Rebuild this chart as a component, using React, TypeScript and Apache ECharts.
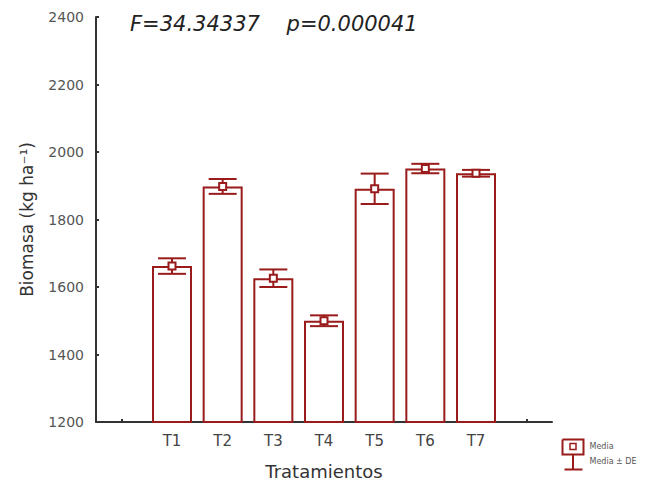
import React, { useEffect, useRef } from "react";
import * as echarts from "echarts";

const categories = ["", "T1", "T2", "T3", "T4", "T5", "T6", "T7", ""];
const means = [null, 1662, 1898, 1626, 1500, 1891, 1951, 1937, null];
const sds = [null, 23, 22, 26, 16, 45, 14, 10, null];
const yTicks = [1200, 1400, 1600, 1800, 2000, 2200, 2400];
const statsText = "F=34.34337    p=0.000041";
const legendLabels = ["Media", "Media ± DE"];

const RED = "#9a1b1b";
const FONT = "DejaVu Sans";

export default function App() {
  const ref = useRef<HTMLDivElement>(null);
  useEffect(() => {
    const chart = echarts.init(ref.current!, null, { renderer: "svg" });
    const errData = means.map((m, i) => (m == null ? null : [i, m, sds[i]]));
    chart.setOption({
      animation: false,
      backgroundColor: "#ffffff",
      textStyle: { fontFamily: FONT },
      grid: { left: 96, right: 100, top: 17, bottom: 62, containLabel: false },
      xAxis: {
        type: "category",
        data: categories,
        boundaryGap: true,
        name: "Tratamientos",
        nameLocation: "middle",
        nameGap: 40,
        nameTextStyle: { fontSize: 18, color: "#333", fontFamily: FONT },
        axisLine: { lineStyle: { color: "#333", width: 2 } },
        axisTick: { show: true, inside: true, length: 3, alignWithLabel: true, lineStyle: { color: "#333", width: 2 } },
        axisLabel: { fontSize: 15, color: "#444", margin: 11, interval: 0, fontFamily: FONT },
        splitLine: { show: false },
      },
      yAxis: {
        type: "value",
        min: yTicks[0],
        max: yTicks[yTicks.length - 1],
        interval: 200,
        name: "Biomasa (kg ha⁻¹)",
        nameLocation: "middle",
        nameGap: 61,
        nameTextStyle: { fontSize: 17, color: "#333", fontFamily: FONT },
        axisLine: { show: true, lineStyle: { color: "#333", width: 2 } },
        axisTick: { show: true, inside: true, length: 3, lineStyle: { color: "#333", width: 2 } },
        axisLabel: { fontSize: 14, color: "#555", margin: 12, fontFamily: FONT, formatter: (v: number) => String(v) },
        splitLine: { show: false },
      },
      title: {
        text: statsText,
        left: 125,
        top: 8,
        textStyle: { fontSize: 21, fontStyle: "italic", fontWeight: "normal", color: "#222", fontFamily: FONT },
      },
      series: [
        {
          type: "bar",
          data: means,
          barWidth: 40,
          itemStyle: { color: "#ffffff", borderColor: RED, borderWidth: 2 },
          z: 2,
        },
        {
          type: "custom",
          data: errData.filter((d) => d != null),
          z: 5,
          renderItem: (params: any, api: any) => {
            const x = api.value(0);
            const m = api.value(1);
            const s = api.value(2);
            const top = api.coord([x, m + s]);
            const bot = api.coord([x, m - s]);
            const mid = api.coord([x, m]);
            const hw = 14;
            const st = { stroke: RED, lineWidth: 2, fill: "none" };
            return {
              type: "group",
              children: [
                { type: "line", shape: { x1: top[0], y1: top[1], x2: bot[0], y2: bot[1] }, style: st },
                { type: "line", shape: { x1: top[0] - hw, y1: top[1], x2: top[0] + hw, y2: top[1] }, style: st },
                { type: "line", shape: { x1: bot[0] - hw, y1: bot[1], x2: bot[0] + hw, y2: bot[1] }, style: st },
                { type: "rect", shape: { x: mid[0] - 3.5, y: mid[1] - 3.5, width: 7, height: 7 }, style: { stroke: RED, lineWidth: 2, fill: "#ffffff" } },
              ],
            };
          },
        },
      ],
      graphic: [
        {
          type: "group",
          left: 560,
          top: 437,
          children: [
            { type: "polyline", shape: { points: [[0, 0], [21, 0], [21, 15], [0, 15], [0, 0]] }, style: { stroke: RED, lineWidth: 2, fill: "none" } },
            { type: "rect", shape: { x: 7.5, y: 4, width: 6, height: 6 }, style: { stroke: RED, lineWidth: 1.5, fill: "#fff" } },
            { type: "line", shape: { x1: 10.5, y1: 15, x2: 10.5, y2: 30 }, style: { stroke: RED, lineWidth: 2 } },
            { type: "line", shape: { x1: 2, y1: 30, x2: 20, y2: 30 }, style: { stroke: RED, lineWidth: 2 } },
            { type: "text", x: 27, y: 3, style: { text: legendLabels[0], fontSize: 8, fill: "#555", fontFamily: FONT } },
            { type: "text", x: 27, y: 18, style: { text: legendLabels[1], fontSize: 8, fill: "#555", fontFamily: FONT } },
          ],
        },
      ],
    });
    return () => chart.dispose();
  }, []);
  return <div ref={ref} style={{ position: "absolute", left: 0, top: 0, width: 652, height: 485 }} />;
}
